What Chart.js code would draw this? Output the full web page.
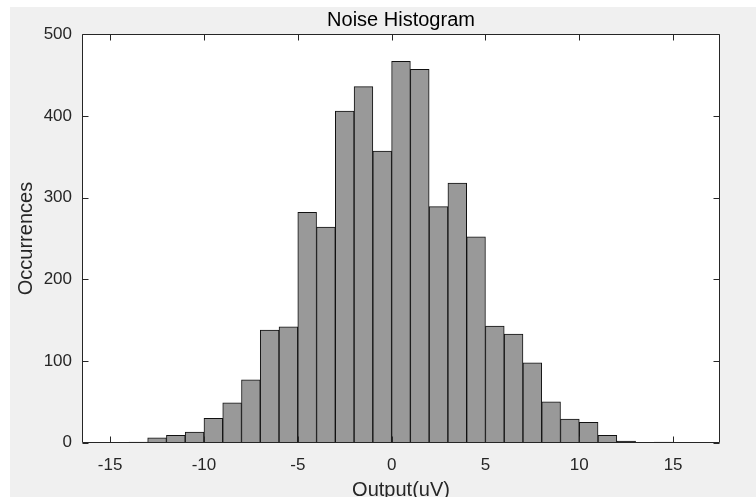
<!DOCTYPE html>
<html>
<head>
<meta charset="utf-8">
<script src="https://cdn.jsdelivr.net/npm/chart.js@4/dist/chart.umd.min.js"></script>
<style>
  html, body { margin: 0; padding: 0; background: #ffffff; }
  #wrap { width: 756px; height: 497px; position: relative; }
</style>
</head>
<body>
<div id="wrap"><canvas id="c" width="756" height="497"></canvas></div>
<script>
// ---- data ----
const binCenters = [-13.5, -12.5, -11.5, -10.5, -9.5, -8.5, -7.5, -6.5, -5.5, -4.5, -3.5, -2.5, -1.5, -0.5,
                    0.5, 1.5, 2.5, 3.5, 4.5, 5.5, 6.5, 7.5, 8.5, 9.5, 10.5, 11.5, 12.5, 13.5, 14.5];
const counts = [1, 6, 9, 13, 30, 49, 77, 138, 142, 282, 264, 406, 436, 357,
                467, 457, 289, 318, 252, 143, 133, 98, 50, 29, 25, 9, 2, 0, 1];
const xTicks = [-15, -10, -5, 0, 5, 10, 15];
const yTicks = [0, 100, 200, 300, 400, 500];
const xRange = [-16.5, 17.5];
const yRange = [0, 500];
const titleText = 'Noise Histogram';
const xLabel = 'Output(uV)';
const yLabel = 'Occurrences';

const AX = '#262626';
const FONT = "'Liberation Sans', Arial, Helvetica, sans-serif";

const backgroundPlugin = {
  id: 'bg',
  beforeDraw(chart) {
    const ctx = chart.ctx;
    const a = chart.chartArea;
    ctx.save();
    ctx.fillStyle = '#ffffff';
    ctx.fillRect(0, 0, chart.width, chart.height);
    ctx.fillStyle = '#f0f0f0';
    ctx.fillRect(10, 7, chart.width - 10, chart.height - 7);
    ctx.fillStyle = '#ffffff';
    ctx.fillRect(a.left, a.top, a.right - a.left, a.bottom - a.top);
    ctx.restore();
  }
};

const boxTicksPlugin = {
  id: 'boxTicks',
  afterDraw(chart) {
    const ctx = chart.ctx;
    const a = chart.chartArea;
    const xs = chart.scales.x, ys = chart.scales.y;
    const L = Math.round(a.left) + 0.5, R = Math.round(a.right) - 0.5;
    const T = Math.round(a.top) + 0.5, B = Math.round(a.bottom) - 0.5;
    const len = 6;
    ctx.save();
    ctx.strokeStyle = AX;
    ctx.lineWidth = 1;
    ctx.beginPath();
    ctx.moveTo(L, T); ctx.lineTo(R, T); ctx.lineTo(R, B); ctx.lineTo(L, B); ctx.lineTo(L, T);
    xTicks.forEach(v => {
      const px = Math.round(xs.getPixelForValue(v)) + 0.5;
      ctx.moveTo(px, B); ctx.lineTo(px, B - len);
      ctx.moveTo(px, T); ctx.lineTo(px, T + len);
    });
    yTicks.forEach(v => {
      const py = Math.round(ys.getPixelForValue(v)) + 0.5;
      ctx.moveTo(L, py); ctx.lineTo(L + len, py);
      ctx.moveTo(R, py); ctx.lineTo(R - len, py);
    });
    ctx.stroke();
    ctx.restore();
  }
};

new Chart(document.getElementById('c'), {
  type: 'bar',
  data: {
    datasets: [{
      data: binCenters.map((x, i) => ({ x: x, y: counts[i] })),
      backgroundColor: '#999999',
      borderColor: '#111111',
      borderWidth: 1,
      barPercentage: 1.0,
      categoryPercentage: 1.0
    }]
  },
  options: {
    responsive: false,
    animation: false,
    devicePixelRatio: 1,
    layout: { padding: { left: 0, right: 36, top: 0, bottom: 0 } },
    plugins: {
      legend: { display: false },
      tooltip: { enabled: false },
      title: {
        display: true,
        text: titleText,
        fullSize: false,
        color: '#000000',
        font: { family: FONT, size: 20, weight: 'normal', lineHeight: 1.2 },
        padding: { top: 8, bottom: 2.3 }
      }
    },
    scales: {
      x: {
        type: 'linear',
        min: xRange[0],
        max: xRange[1],
        offset: false,
        afterBuildTicks(scale) { scale.ticks = xTicks.map(v => ({ value: v })); },
        afterFit(scale) { scale.height = 54.2; },
        grid: { display: false, drawTicks: false },
        border: { display: false },
        ticks: {
          color: AX,
          padding: 12,
          maxRotation: 0,
          autoSkip: false,
          font: { family: FONT, size: 17 }
        },
        title: {
          display: true,
          text: xLabel,
          color: AX,
          font: { family: FONT, size: 20, lineHeight: 1.2 },
          padding: { top: 0, bottom: -5.5 }
        }
      },
      y: {
        type: 'linear',
        min: yRange[0],
        max: yRange[1],
        afterBuildTicks(scale) { scale.ticks = yTicks.map(v => ({ value: v })); },
        afterFit(scale) { scale.width = 82; },
        grid: { display: false, drawTicks: false },
        border: { display: false },
        ticks: {
          color: AX,
          padding: 10,
          autoSkip: false,
          font: { family: FONT, size: 17 }
        },
        title: {
          display: true,
          text: yLabel,
          color: AX,
          font: { family: FONT, size: 20, lineHeight: 1.2 },
          padding: { top: 14, bottom: 0 }
        }
      }
    }
  },
  plugins: [backgroundPlugin, boxTicksPlugin]
});
</script>
</body>
</html>
